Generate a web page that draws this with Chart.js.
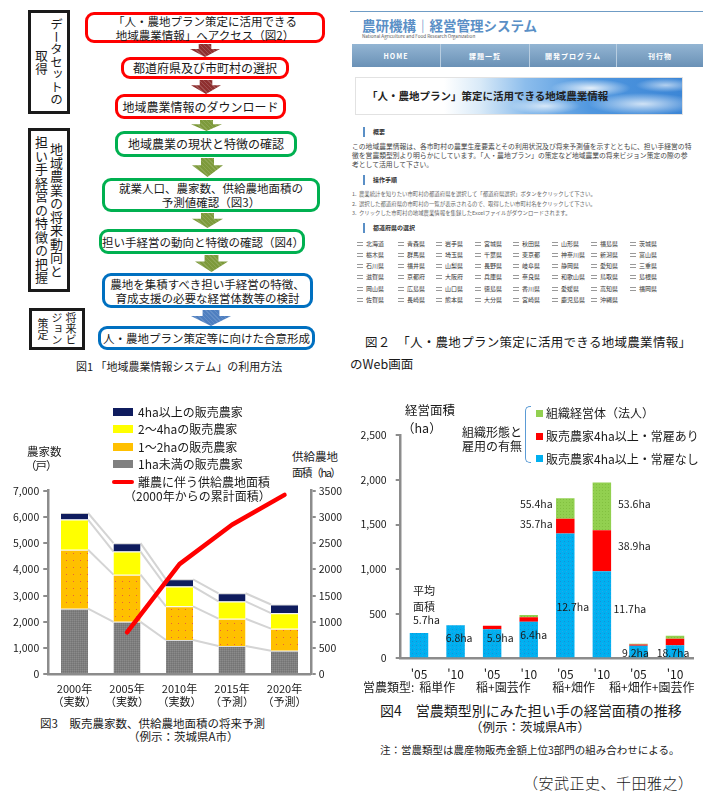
<!DOCTYPE html>
<html lang="ja">
<head>
<meta charset="utf-8">
<script src="https://cdn.jsdelivr.net/npm/chart.js"></script>
<style>
html,body{margin:0;padding:0;background:#fff;}
body{width:710px;height:798px;position:relative;overflow:hidden;font-family:"Noto Sans CJK JP","Noto Sans",sans-serif;color:#1a1a1a;}
.t{position:absolute;white-space:nowrap;line-height:1;transform:translateY(-50%);z-index:5;}
.box{position:absolute;box-sizing:border-box;border:3px solid;border-radius:9px;display:flex;align-items:center;justify-content:center;text-align:center;font-size:11.5px;line-height:14px;background:#fff;}
.red{border-color:#ff0000;} .green{border-color:#00b050;} .blue{border-color:#0070c0;}
.vbox{position:absolute;box-sizing:border-box;border:3px solid;}
.vbox > div{position:absolute;top:0;bottom:0;left:50%;transform:translateX(-50%);writing-mode:vertical-rl;text-align:center;white-space:nowrap;}
.arrow{position:absolute;clip-path:polygon(29% 0,71% 0,71% 38%,100% 38%,50% 100%,0 38%,29% 38%);}
.ar{background:#8e2f2f;background-image:repeating-linear-gradient(45deg,rgba(255,255,255,.16) 0 1px,transparent 1px 3px);}
.ag{background:#7d9a3b;background-image:repeating-linear-gradient(45deg,rgba(255,255,255,.12) 0 1px,transparent 1px 3px);}
.ab{background:#4f7fc0;background-image:repeating-linear-gradient(45deg,rgba(255,255,255,.12) 0 1px,transparent 1px 3px);}
#web{position:absolute;left:350px;top:0;width:360px;height:320px;}
#web .t{color:#444;}
.hbar{position:absolute;width:2px;height:10px;background:#5a8fc6;}
.nav{position:absolute;top:44px;height:23px;left:2px;width:351px;background:linear-gradient(#93b5d3,#6a91b6);}
.navi{position:absolute;top:0;height:23px;display:flex;align-items:center;justify-content:center;color:#fff;font-weight:bold;font-size:7px;letter-spacing:1px;border-right:1px solid #b8cde0;box-sizing:border-box;}
.pref{position:absolute;font-size:6px;line-height:1;color:#333;transform:translateY(-50%);white-space:nowrap;}
.pref i{display:inline-block;width:6px;height:2px;border-top:1px solid #999;border-bottom:1px solid #999;margin-right:3px;vertical-align:middle;}
canvas{position:absolute;}
</style>
</head>
<body>
<script>
// ---------------- Figure 3 data ----------------
const fig3Years = [['2000年','（実数）'],['2005年','（実数）'],['2010年','（実数）'],['2015年','（予測）'],['2020年','（予測）']];
const fig3Under1ha = [2500, 2000, 1310, 1080, 900];
const fig3From1to2ha = [2250, 1800, 1280, 1040, 840];
const fig3From2to4ha = [1150, 880, 760, 660, 590];
const fig3Over4ha = [250, 320, 270, 310, 330];
const fig3SupplyArea = [null, 800, 2100, 2850, 3420];
const fig3LeftTicks = [0, 1000, 2000, 3000, 4000, 5000, 6000, 7000];
const fig3RightTicks = [0, 500, 1000, 1500, 2000, 2500, 3000, 3500];
const fig3SeriesNames = ['1ha未満の販売農家', '1～2haの販売農家', '2～4haの販売農家', '4ha以上の販売農家', '離農に伴う供給農地面積'];

// ---------------- Figure 4 data ----------------
const fig4Years = ["'05", "'10", "'05", "'10", "'05", "'10", "'05", "'10"];
const fig4Types = ['稲単作', '稲+園芸作', '稲+畑作', '稲+畑作+園芸作'];
const fig4NoHire = [285, 370, 325, 410, 1400, 975, 142, 145];
const fig4WithHire = [0, 0, 40, 50, 165, 460, 14, 73];
const fig4Corp = [0, 0, 0, 25, 230, 535, 7, 36];
const fig4NoHireAvg = ['5.7ha', '6.8ha', '5.9ha', '6.4ha', '12.7ha', '11.7ha', '9.2ha', '18.7ha'];
const fig4WithHireAvg = [null, null, null, null, '35.7ha', '38.9ha', null, null];
const fig4CorpAvg = [null, null, null, null, '55.4ha', '53.6ha', null, null];
const fig4Ticks = [0, 500, 1000, 1500, 2000, 2500];
const fig4SeriesNames = ['販売農家4ha以上・常雇なし', '販売農家4ha以上・常雇あり', '組織経営体（法人）'];

// label placement (layout only): [offset from bar centre in px, height on value axis]
const fig4SpotNoHire = [[-6, 428], [3.5, 229], [8, 225], [5, 265], [7.5, 570], [28, 556], [-3, 61], [-2, 58]];
const fig4SpotWithHire = [null, null, null, null, [-29, 1500], [32.5, 1261], null, null];
const fig4SpotCorp = [null, null, null, null, [-29, 1726], [32.5, 1734], null, null];
const fig4GroupShift = [0, -7, -10, -5];
</script>

<!-- ================= Figure 1 ================= -->
<div class="vbox red" style="left:28px;top:10px;width:42px;height:104px;"><div style="font-size:12.5px;line-height:15px;letter-spacing:0;">データセットの<br>取得</div></div>
<div class="vbox green" style="left:28px;top:128px;width:42px;height:164px;"><div style="font-size:13px;line-height:15px;letter-spacing:0.5px;">地域農業の将来動向と<br>担い手経営の特徴の把握</div></div>
<div class="vbox blue" style="left:29px;top:308px;width:56px;height:42px;"><div style="font-size:11px;line-height:14px;letter-spacing:0.3px;">将来ビ<br>ジョン<br>策定</div></div>

<div class="box red" style="left:85px;top:12px;width:240px;height:31px;">「人・農地プラン策定に活用できる<br>地域農業情報」へアクセス（図2）</div>
<div class="arrow ar" style="left:190px;top:44px;width:30px;height:13px;"></div>
<div class="box red" style="left:121px;top:57px;width:168px;height:22px;font-size:12px;">都道府県及び市町村の選択</div>
<div class="arrow ar" style="left:191px;top:80px;width:30px;height:14px;"></div>
<div class="box red" style="left:115px;top:94px;width:171px;height:25px;font-size:12px;">地域農業情報のダウンロード</div>
<div class="arrow ag" style="left:191px;top:120px;width:31px;height:11px;"></div>
<div class="box green" style="left:115px;top:131px;width:182px;height:26px;font-size:12px;">地域農業の現状と特徴の確認</div>
<div class="arrow ag" style="left:192px;top:158px;width:31px;height:19px;"></div>
<div class="box green" style="left:102px;top:178px;width:218px;height:34px;">就業人口、農家数、供給農地面積の<br>予測値確認（図3）</div>
<div class="arrow ag" style="left:192px;top:213px;width:31px;height:15px;"></div>
<div class="box green" style="left:99px;top:229px;width:206px;height:25px;">担い手経営の動向と特徴の確認（図4）</div>
<div class="arrow ag" style="left:195px;top:255px;width:33px;height:17px;"></div>
<div class="box blue" style="left:102px;top:273px;width:211px;height:35px;">農地を集積すべき担い手経営の特徴、<br>育成支援の必要な経営体数等の検討</div>
<div class="arrow ab" style="left:191px;top:310px;width:40px;height:16px;"></div>
<div class="box blue" style="left:98px;top:326px;width:217px;height:24px;">人・農地プラン策定等に向けた合意形成</div>
<div class="t" style="left:76px;top:366px;font-size:11px;">図1 「地域農業情報システム」の利用方法</div>

<!-- ================= Figure 2 (web page) ================= -->
<div id="web">
  <div style="position:absolute;left:0;top:11px;width:353px;height:1px;background:#6f9cc5;"></div>
  <div class="t" style="left:12px;top:26px;font-size:13.5px;font-weight:bold;color:#5a8fc6;">農研機構｜経営管理システム</div>
  <div class="t" style="left:12px;top:36px;font-size:4.6px;color:#555;">National Agriculture and Food Research Organization</div>
  <div class="nav">
    <div class="navi" style="left:0;width:89px;">HOME</div>
    <div class="navi" style="left:89px;width:89px;">課題一覧</div>
    <div class="navi" style="left:178px;width:87px;">開発プログラム</div>
    <div class="navi" style="left:265px;width:86px;border-right:none;">刊行物</div>
  </div>
  <div style="position:absolute;left:5px;top:77px;width:328px;height:38px;border:1px solid #e2e2e2;box-sizing:border-box;background:radial-gradient(ellipse 40px 9px at 72% 28%,rgba(255,255,255,.85),transparent),radial-gradient(ellipse 55px 11px at 88% 72%,rgba(255,255,255,.75),transparent),radial-gradient(ellipse 35px 8px at 58% 78%,rgba(255,255,255,.7),transparent),radial-gradient(ellipse 30px 7px at 95% 20%,rgba(255,255,255,.6),transparent),linear-gradient(90deg,#fff 0%,#fff 27%,#d9eaf8 38%,#8cbdec 52%,#5097df 72%,#3c86d6 100%);"></div>
  <div class="t" style="left:17px;top:96px;font-size:10.5px;font-weight:bold;color:#222;">「人・農地プラン」策定に活用できる地域農業情報</div>

  <div class="hbar" style="left:13px;top:127px;"></div>
  <div class="t" style="left:23px;top:132px;font-size:6px;font-weight:bold;color:#333;">概要</div>
  <div class="t" style="left:2px;top:146px;font-size:6.8px;">この地域農業情報は、各市町村の農業生産要素とその利用状況及び将来予測値を示すとともに、担い手経営の特</div>
  <div class="t" style="left:2px;top:155px;font-size:6.8px;">徴を営農類型別より明らかにしています。「人・農地プラン」の策定など地域農業の将来ビジョン策定の際の参</div>
  <div class="t" style="left:2px;top:164px;font-size:6.8px;">考として活用して下さい。</div>

  <div class="hbar" style="left:13px;top:175px;"></div>
  <div class="t" style="left:23px;top:180px;font-size:6px;font-weight:bold;color:#333;">操作手順</div>
  <div class="t" style="left:2px;top:195px;font-size:5.4px;color:#666;">1.&nbsp; 農業統計を知りたい市町村の都道府県を選択して「都道府県選択」ボタンをクリックして下さい。</div>
  <div class="t" style="left:2px;top:205px;font-size:5.4px;color:#666;">2.&nbsp; 選択した都道府県の市町村の一覧が表示されるので、取得したい市町村名をクリックして下さい。</div>
  <div class="t" style="left:2px;top:214px;font-size:5.4px;color:#666;">3.&nbsp; クリックした市町村の地域農業情報を集録したExcelファイルがダウンロードされます。</div>

  <div class="hbar" style="left:13px;top:223px;"></div>
  <div class="t" style="left:23px;top:228px;font-size:6px;font-weight:bold;color:#333;">都道府県の選択</div>
  <div id="prefs"></div>
</div>
<div class="t" style="left:365px;top:342px;font-size:12.5px;letter-spacing:0.3px;">図２　「人・農地プラン策定に活用できる地域農業情報」</div>
<div class="t" style="left:350px;top:364px;font-size:12.5px;">のWeb画面</div>

<!-- ================= Figure 3 ================= -->
<canvas id="c3" width="355" height="230" style="left:0;top:480px;"></canvas>
<div class="t" style="left:27px;top:452px;font-size:11.5px;">農家数</div>
<div class="t" style="left:25px;top:466px;font-size:11.5px;letter-spacing:-1px;">（戸）</div>
<div class="t" style="left:292px;top:457px;font-size:11.5px;">供給農地</div>
<div class="t" style="left:292px;top:472px;font-size:11px;letter-spacing:-1.5px;">面積（ha）</div>
<div id="leg3"></div>
<div class="t" style="left:40px;top:724px;font-size:11.5px;">図3　販売農家数、供給農地面積の将来予測</div>
<div class="t" style="left:128px;top:737px;font-size:11.5px;">（例示：茨城県A市）</div>

<!-- ================= Figure 4 ================= -->
<canvas id="c4" width="355" height="280" style="left:355px;top:420px;"></canvas>
<div class="t" style="left:405px;top:410px;font-size:12.5px;">経営面積</div>
<div class="t" style="left:402px;top:428px;font-size:12.5px;">（ha）</div>
<div class="t" style="left:462px;top:432px;font-size:12px;">組織形態と</div>
<div class="t" style="left:462px;top:446px;font-size:12px;">雇用の有無</div>
<div style="position:absolute;left:525px;top:406px;width:5px;height:55px;border:1.5px solid #5b9bd5;border-right:none;border-radius:5px 0 0 5px;"></div>
<div id="leg4"></div>
<div class="t" style="left:380px;top:710px;font-size:14px;">図4　営農類型別にみた担い手の経営面積の推移</div>
<div class="t" style="left:470px;top:727px;font-size:12.5px;">（例示：茨城県A市）</div>
<div class="t" style="left:380px;top:750px;font-size:10.5px;">注：営農類型は農産物販売金額上位3部門の組み合わせによる。</div>
<div class="t" style="left:523px;top:782px;font-size:15px;letter-spacing:0.5px;font-weight:300;">（安武正史、千田雅之）</div>

<script>
// ---------- Figure 2 prefecture list ----------
const prefRows = [
 ['北海道','青森県','岩手県','宮城県','秋田県','山形県','福島県','茨城県'],
 ['栃木県','群馬県','埼玉県','千葉県','東京都','神奈川県','新潟県','富山県'],
 ['石川県','福井県','山梨県','長野県','岐阜県','静岡県','愛知県','三重県'],
 ['滋賀県','京都府','大阪府','兵庫県','奈良県','和歌山県','鳥取県','島根県'],
 ['岡山県','広島県','山口県','徳島県','香川県','愛媛県','高知県','福岡県'],
 ['佐賀県','長崎県','熊本県','大分県','宮崎県','鹿児島県','沖縄県']
];
(function(){
  const colX=[7,48,86,125,163,202,241,280], rowY=[244,255,266,277,288.5,299.5];
  let h='';
  prefRows.forEach((r,ri)=>r.forEach((p,ci)=>{h+=`<div class="pref" style="left:${colX[ci]}px;top:${rowY[ri]}px;"><i></i>${p}</div>`;}));
  document.getElementById('prefs').innerHTML=h;
})();

// ---------- Legends (HTML) ----------
(function(){
  const leg3=[
    {t:fig3SeriesNames[3], y:411.5, sw:'background:#0f1c5e;'},
    {t:fig3SeriesNames[2], y:429, sw:'background:#ffff00;'},
    {t:fig3SeriesNames[1], y:447, sw:'background:#ffc000;'},
    {t:fig3SeriesNames[0], y:464, sw:'background:#808080;'}
  ];
  let h='';
  leg3.forEach(o=>{h+=`<div style="position:absolute;left:113px;top:${o.y-4}px;width:20px;height:8px;${o.sw}"></div><div class="t" style="left:138px;top:${o.y}px;font-size:12px;">${o.t}</div>`;});
  h+=`<div style="position:absolute;left:112px;top:480px;width:22px;height:4px;border-radius:2px;background:#ff0000;"></div>`;
  h+=`<div class="t" style="left:138px;top:482px;font-size:12px;">${fig3SeriesNames[4]}</div>`;
  h+=`<div class="t" style="left:124px;top:496px;font-size:12px;">（2000年からの累計面積）</div>`;
  document.getElementById('leg3').innerHTML=h;
  const leg4=[
    {t:fig4SeriesNames[2], y:413, c:'#92d050'},
    {t:fig4SeriesNames[1], y:436, c:'#ff0000'},
    {t:fig4SeriesNames[0], y:458.5, c:'#00b0f0'}
  ];
  let g='';
  leg4.forEach(o=>{g+=`<div style="position:absolute;left:536px;top:${o.y-3.5}px;width:7px;height:7px;background:${o.c};"></div><div class="t" style="left:546px;top:${o.y}px;font-size:12px;">${o.t}</div>`;});
  document.getElementById('leg4').innerHTML=g;
})();

// ---------- helpers ----------
const FONT = '"Noto Sans CJK JP","Noto Sans",sans-serif';
function makePattern(ctx, base, size, dots){
  const c=document.createElement('canvas'); c.width=size; c.height=size;
  const g=c.getContext('2d'); g.fillStyle=base; g.fillRect(0,0,size,size);
  dots.forEach(([x,y,col])=>{g.fillStyle=col; g.fillRect(x,y,1,1);});
  return ctx.createPattern(c,'repeat');
}
Chart.defaults.font.family = FONT;
Chart.defaults.color = '#1a1a1a';
const AXIS = '#8c8c8c';

// ---------- Figure 3 ----------
const c3 = document.getElementById('c3');
const x3 = c3.getContext('2d');
const patOrange = makePattern(x3,'#ffc000',7,[[3,3,'#e8603a']]);
const patGray = makePattern(x3,'#7f7f7f',2,[[0,0,'#8b8b8b'],[1,1,'#747474']]);

const seriesLinesPlugin = {
  id:'seriesLines',
  beforeDatasetsDraw(chart){
    const ctx=chart.ctx; ctx.save();
    ctx.strokeStyle='#d4d4d4'; ctx.lineWidth=2;
    chart.data.datasets.forEach((ds,di)=>{
      if(ds.type==='line') return;
      const els=chart.getDatasetMeta(di).data;
      for(let i=0;i<els.length-1;i++){
        const a=els[i], b=els[i+1];
        ctx.beginPath();
        ctx.moveTo(a.x+a.width/2, a.y);
        ctx.lineTo(b.x-b.width/2, b.y);
        ctx.stroke();
      }
    });
    ctx.restore();
  }
};

const gridTicks = {display:true, drawOnChartArea:false, drawTicks:true, tickLength:5, color:AXIS, lineWidth:2};
new Chart(c3,{
  type:'bar',
  data:{
    labels:fig3Years,
    datasets:[
      {label:fig3SeriesNames[0], data:fig3Under1ha, backgroundColor:patGray, borderColor:'#d9d9d9', borderWidth:{top:1}, borderSkipped:false, order:1},
      {label:fig3SeriesNames[1], data:fig3From1to2ha, backgroundColor:patOrange, borderColor:'#f6f6f6', borderWidth:{top:1}, order:1},
      {label:fig3SeriesNames[2], data:fig3From2to4ha, backgroundColor:'#ffff00', borderColor:'#f6f6f6', borderWidth:{top:1}, order:1},
      {label:fig3SeriesNames[3], data:fig3Over4ha, backgroundColor:'#0f1c5e', borderColor:'#c8c8c8', borderWidth:{top:1}, order:1},
      {type:'line', label:fig3SeriesNames[4], data:fig3SupplyArea, yAxisID:'y2', borderColor:'#ff0000', borderWidth:4.5, borderCapStyle:'round', borderJoinStyle:'round', pointRadius:0, tension:0, order:0}
    ]
  },
  options:{
    responsive:false, animation:false, events:[], devicePixelRatio:1,
    layout:{padding:{top:10.7,left:0,right:0,bottom:0}},
    plugins:{legend:{display:false}, tooltip:{enabled:false}},
    datasets:{bar:{categoryPercentage:1, barPercentage:0.515}},
    scales:{
      x:{stacked:true, grid:{display:false, drawTicks:false}, border:{display:true,color:AXIS,width:2.5},
         ticks:{padding:8, font:{size:11, lineHeight:1.2}, color:'#1a1a1a', maxRotation:0},
         afterFit(s){s.height=35.7;}},
      y:{stacked:true, min:fig3LeftTicks[0], max:fig3LeftTicks[fig3LeftTicks.length-1],
         grid:gridTicks, border:{display:true,color:AXIS,width:2.5},
         ticks:{stepSize:fig3LeftTicks[1]-fig3LeftTicks[0], padding:4, font:{size:10.5}, color:'#1a1a1a', callback:v=>v.toLocaleString('en-US')},
         afterFit(s){s.width=48.25;}},
      y2:{position:'right', stacked:false, min:fig3RightTicks[0], max:fig3RightTicks[fig3RightTicks.length-1],
         grid:gridTicks, border:{display:true,color:AXIS,width:2.5},
         ticks:{stepSize:fig3RightTicks[1]-fig3RightTicks[0], padding:3, font:{size:10.5}, color:'#1a1a1a', callback:v=>String(v)},
         afterFit(s){s.width=44.25;}}
    }
  },
  plugins:[seriesLinesPlugin]
});

// ---------- Figure 4 ----------
const c4 = document.getElementById('c4');
const x4 = c4.getContext('2d');
const patBlue = makePattern(x4,'#00b0f0',4,[[1,1,'#1590d6'],[3,3,'#27a6ea']]);
const patGreen = makePattern(x4,'#92d050',3,[[1,1,'#82c040']]);

const fig4TextPlugin = {
  id:'fig4Text',
  afterDatasetsDraw(chart){
    const {ctx, chartArea} = chart; const xs=chart.scales.x, ys=chart.scales.y;
    ctx.save();
    ctx.fillStyle='#1a1a1a'; ctx.textBaseline='middle';
    ctx.font='10.5px '+FONT;
    const groups=[[fig4NoHireAvg,fig4SpotNoHire],[fig4WithHireAvg,fig4SpotWithHire],[fig4CorpAvg,fig4SpotCorp]];
    groups.forEach(([labels,spots])=>{
      labels.forEach((t,i)=>{
        if(!t||!spots[i]) return;
        const px=xs.getPixelForValue(i)+spots[i][0], py=ys.getPixelForValue(spots[i][1]);
        if(i===0){ctx.textAlign='left';} else {ctx.textAlign='center';}
        ctx.fillText(t,px,py);
      });
    });
    // "平均 / 面積" caption above the first average label
    ctx.textAlign='left'; ctx.font='11px '+FONT;
    const bx=xs.getPixelForValue(0)+fig4SpotNoHire[0][0];
    ctx.fillText('平均',bx,ys.getPixelForValue(756));
    ctx.fillText('面積',bx,ys.getPixelForValue(581));
    // farming type groups
    ctx.font='12px '+FONT; ctx.textAlign='center';
    const gy=chartArea.bottom+29;
    fig4Types.forEach((t,i)=>{
      const cx=(xs.getPixelForValue(2*i)+xs.getPixelForValue(2*i+1))/2+fig4GroupShift[i];
      ctx.fillText(t,cx,gy);
    });
    ctx.textAlign='left';
    ctx.fillText('営農類型:',8,gy);
    ctx.restore();
  }
};

new Chart(c4,{
  type:'bar',
  data:{
    labels:fig4Years,
    datasets:[
      {label:fig4SeriesNames[0], data:fig4NoHire, backgroundColor:patBlue},
      {label:fig4SeriesNames[1], data:fig4WithHire, backgroundColor:'#ff0000'},
      {label:fig4SeriesNames[2], data:fig4Corp, backgroundColor:patGreen}
    ]
  },
  options:{
    responsive:false, animation:false, events:[], devicePixelRatio:1,
    layout:{padding:{top:9,left:0,right:16.7,bottom:0}},
    plugins:{legend:{display:false}, tooltip:{enabled:false}},
    datasets:{bar:{categoryPercentage:1, barPercentage:0.505}},
    scales:{
      x:{stacked:true, grid:{display:false, drawTicks:false}, border:{display:true,color:AXIS,width:2.5},
         ticks:{padding:10, font:{size:12, lineHeight:1.1}, color:'#1a1a1a', maxRotation:0, autoSkip:false},
         afterFit(s){s.height=41.7;}},
      y:{stacked:true, min:fig4Ticks[0], max:fig4Ticks[fig4Ticks.length-1],
         grid:gridTicks, border:{display:true,color:AXIS,width:2.5},
         ticks:{stepSize:fig4Ticks[1]-fig4Ticks[0], padding:9, font:{size:10.5}, color:'#1a1a1a', callback:v=>v.toLocaleString('en-US')},
         afterFit(s){s.width=45.7;}}
    }
  },
  plugins:[fig4TextPlugin]
});
</script>
</body>
</html>
